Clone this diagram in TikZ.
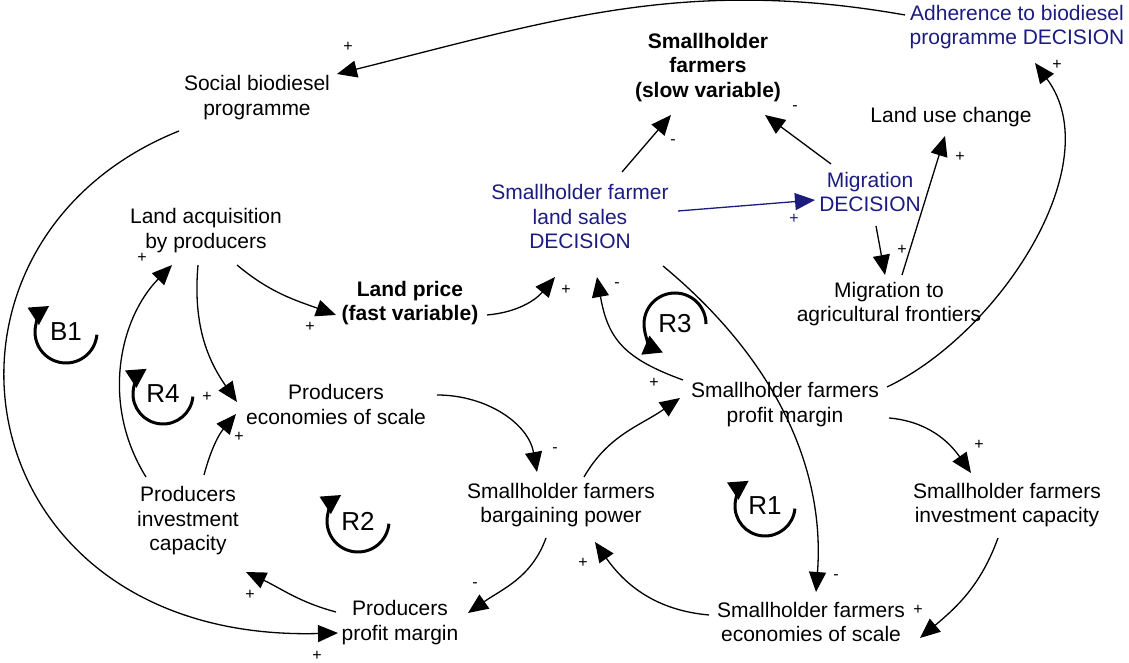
\documentclass[tikz,border=0pt]{standalone}
\usepackage{fontspec}
\setmainfont{Liberation Sans}
\usetikzlibrary{arrows.meta}
\definecolor{decblue}{RGB}{28,28,128}
\begin{document}
\begin{tikzpicture}[x=1pt,y=1pt,
  var/.style={align=center, inner sep=0pt, font=\fontsize{21}{24.5}\selectfont},
  varb/.style={var, font=\fontsize{21}{24.5}\selectfont\bfseries},
  dec/.style={text=decblue},
  link/.style={line width=1.3pt, -{Triangle[length=20pt,width=17pt]}},
  sign/.style={inner sep=0pt, font=\fontsize{16}{16}\selectfont},
  looplabel/.style={inner sep=0pt, font=\fontsize{26}{26}\selectfont},
  loopline/.style={line width=3pt, -{Triangle[length=19pt,width=20pt]}}]
\useasboundingbox (0,0) rectangle (1129,663);

% variables
\node[var,dec] (adh) at (1017,636) {Adherence to biodiesel\\programme DECISION};
\node[var] (soc) at (257,565.5) {Social biodiesel\\programme};
\node[varb] (slow) at (708,595.5) {Smallholder\\farmers\\(slow variable)};
\node[var] (luc) at (951,546) {Land use change};
\node[var,dec] (lsd) at (580,446) {Smallholder farmer\\land sales\\DECISION};
\node[var,dec] (mig) at (870,471) {Migration\\DECISION};
\node[var] (lap) at (206,432.5) {Land acquisition\\by producers};
\node[varb] (lp) at (410,360) {Land price\\(fast variable)};
\node[var] (maf) at (889,359) {Migration to\\agricultural frontiers};
\node[var] (pes) at (336,258.5) {Producers\\economies of scale};
\node[var] (spm) at (785,258.5) {Smallholder farmers\\profit margin};
\node[var] (pic) at (188,142) {Producers\\investment\\capacity};
\node[var] (sbp) at (561,158) {Smallholder farmers\\bargaining power};
\node[var] (sic) at (1007,158) {Smallholder farmers\\investment capacity};
\node[var] (ppm) at (400,40.5) {Producers\\profit margin};
\node[var] (ses) at (811,41) {Smallholder farmers\\economies of scale};

% causal links
\draw[link] ([shift={(-112,12)}]adh.center) to[out=170,in=14] ([shift={(80,23.5)}]soc.center);
\draw[link] ([shift={(102,17.5)}]spm.center) .. controls (1000,330) and (1110,500) .. ([shift={(18,-36)}]adh.center);
\draw[link] ([shift={(-78,-33.5)}]soc.center) .. controls (-100,420) and (-40,20) .. ([shift={(-62,-10.5)}]ppm.center);
\draw[link] ([shift={(31,-34.5)}]lap.center) to[out=-40,in=160] ([shift={(-74,-12)}]lp.center);
\draw[link] ([shift={(77,-12)}]lp.center) to[out=5,in=-130] ([shift={(-25,-60)}]lsd.center);
\draw[link] ([shift={(42,45)}]lsd.center) -- ([shift={(-37,-47.5)}]slow.center);
\draw[link] ([shift={(-39,28)}]mig.center) -- ([shift={(57,-47.5)}]slow.center);
\draw[link,decblue] ([shift={(98,6)}]lsd.center) -- ([shift={(-55,-8)}]mig.center);
\draw[link] ([shift={(6,-34)}]mig.center) -- ([shift={(-4,29)}]maf.center);
\draw[link] ([shift={(13,29)}]maf.center) -- ([shift={(-6,-19)}]luc.center);
\draw[link] ([shift={(-8,-34.5)}]lap.center) to[out=-95,in=125] ([shift={(-99,2.5)}]pes.center);
\draw[link] ([shift={(-42,44)}]pic.center) .. controls (100,260) and (120,345) .. ([shift={(-34,-34.5)}]lap.center);
\draw[link] ([shift={(16,46)}]pic.center) to[out=75,in=-130] ([shift={(-100,-9.5)}]pes.center);
\draw[link] ([shift={(101,9.5)}]pes.center) to[out=0,in=100] ([shift={(-24,33)}]sbp.center);
\draw[link] ([shift={(-15,-33)}]sbp.center) to[out=-110,in=35] ([shift={(68,9.5)}]ppm.center);
\draw[link] ([shift={(-64,10.5)}]ppm.center) to[out=165,in=-25] ([shift={(58,-51)}]pic.center);
\draw[link] ([shift={(23,28)}]sbp.center) to[out=60,in=-145] ([shift={(-105,6.5)}]spm.center);
\draw[link] ([shift={(-102,24.5)}]spm.center) to[out=160,in=-80,looseness=1.2] ([shift={(17,-60)}]lsd.center);
\draw[link] ([shift={(83,-49)}]lsd.center) .. controls (780,300) and (825,190) .. ([shift={(5,30)}]ses.center);
\draw[link] ([shift={(104,-13.5)}]spm.center) to[out=-5,in=125] ([shift={(-36,32)}]sic.center);
\draw[link] ([shift={(-9,-33)}]sic.center) to[out=-110,in=40] ([shift={(109,-16)}]ses.center);
\draw[link] ([shift={(-102,7)}]ses.center) to[out=175,in=-55] ([shift={(34,-37)}]sbp.center);

% link polarities
\node[sign] (s1) at (348,616) {+};
\node[sign] (s2) at (1057,598) {+};
\node[sign] (s3) at (317,7) {+};
\node[sign] (s4) at (310,336) {+};
\node[sign] (s5) at (566,373) {+};
\node[sign] (s6) at (673,521) {-};
\node[sign] (s7) at (795,555) {-};
\node[sign,text=decblue] (s8) at (794,444) {+};
\node[sign] (s9) at (902,413) {+};
\node[sign] (s10) at (960,506) {+};
\node[sign] (s11) at (207,266) {+};
\node[sign] (s12) at (142,405) {+};
\node[sign] (s13) at (239,226) {+};
\node[sign] (s14) at (555,213) {-};
\node[sign] (s15) at (475,78) {-};
\node[sign] (s16) at (250,68) {+};
\node[sign] (s17) at (654,280) {+};
\node[sign] (s18) at (617,378) {-};
\node[sign] (s19) at (836,86) {-};
\node[sign] (s20) at (979,218) {+};
\node[sign] (s21) at (918,53) {+};
\node[sign] (s22) at (583,100) {+};

% feedback loop markers
\node[looplabel] (b1) at (66,331) {B1};
\node[looplabel] (r4) at (163,269) {R4};
\node[looplabel] (r2) at (358,142) {R2};
\node[looplabel] (r1) at (765,157) {R1};
\node[looplabel] (r3) at (675,339) {R3};
\draw[loopline] ([shift={(-5:31)}]b1.center) arc[start angle=-5,end angle=-237,radius=31];
\draw[loopline] ([shift={(-5:30)}]r4.center) arc[start angle=-5,end angle=-237,radius=30];
\draw[loopline] ([shift={(-5:31)}]r2.center) arc[start angle=-5,end angle=-237,radius=31];
\draw[loopline] ([shift={(-5:30)}]r1.center) arc[start angle=-5,end angle=-237,radius=30];
\draw[loopline] ([shift={(0:31)}]r3.center) arc[start angle=0,end angle=247,radius=31];
\end{tikzpicture}
\end{document}
